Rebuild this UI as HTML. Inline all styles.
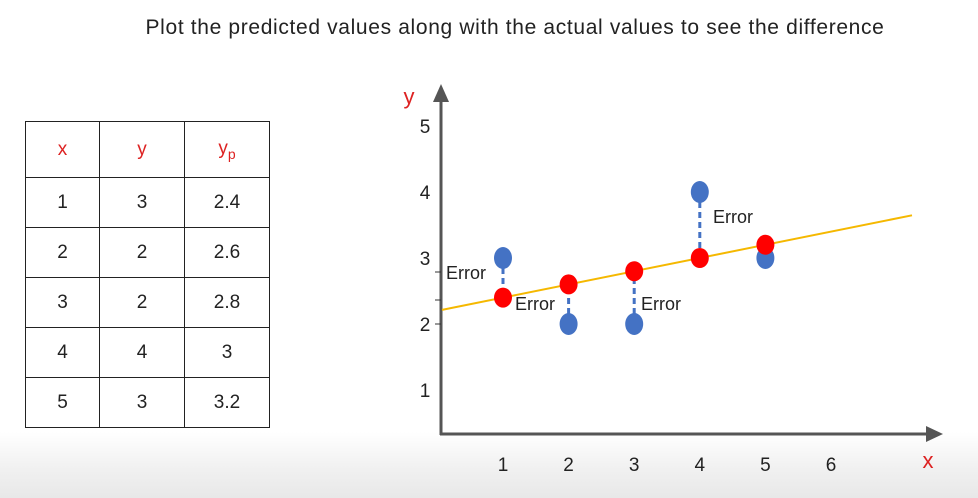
<!DOCTYPE html>
<html><head><meta charset="utf-8"><style>
body{margin:0;width:978px;height:498px;overflow:hidden;background:linear-gradient(#fff 0,#fff 432px,#f0f0f0 470px,#e8e8e8 498px);font-family:"Liberation Sans",sans-serif;position:relative}
#title{position:absolute;left:0;width:1030px;top:16px;text-align:center;font-size:21px;color:#222;letter-spacing:0.65px;white-space:nowrap}
table{position:absolute;left:25px;top:121px;border-collapse:collapse}
td{border:1.5px solid #222;text-align:center;font-size:19px;color:#222;padding:0}
td.h{color:#d22;height:55px}
td.r{height:49px}
</style></head><body>
<div id="title">Plot the predicted values along with the actual values to see the difference</div>
<table>
<tr><td class="h" style="width:73px">x</td><td class="h" style="width:84px">y</td><td class="h" style="width:84px">y<sub style="font-size:14px">p</sub></td></tr>
<tr><td class="r">1</td><td>3</td><td>2.4</td></tr>
<tr><td class="r">2</td><td>2</td><td>2.6</td></tr>
<tr><td class="r">3</td><td>2</td><td>2.8</td></tr>
<tr><td class="r">4</td><td>4</td><td>3</td></tr>
<tr><td class="r">5</td><td>3</td><td>3.2</td></tr>
</table>
<svg id="chart" width="978" height="498" style="position:absolute;left:0;top:0"></svg>
<script>
const xs=[1,2,3,4,5];
const actual=[3,2,2,4,3];
const predicted=[2.4,2.6,2.8,3,3.2];
const xTicks=[1,2,3,4,5,6];
const yTicks=[1,2,3,4,5];
const intercept=2.2, slope=0.2;
const errorLabels=["Error","Error","Error","Error",""];
const sx=v=>503+(v-1)*65.6;
const sy=v=>324-(v-2)*66;
const svg=document.getElementById('chart');
const NS='http://www.w3.org/2000/svg';
function mk(t,a,name){const e=document.createElementNS(NS,t);for(const k in a)e.setAttribute(k,a[k]);svg.appendChild(e);


return e;}
mk('line',{x1:441,y1:435,x2:441,y2:100,stroke:'#555','stroke-width':3},'y-axis');
mk('polygon',{points:'433,102 449,102 441,84',fill:'#555'},'y-axis-arrow');
mk('line',{x1:440,y1:434,x2:928,y2:434,stroke:'#555','stroke-width':3},'x-axis');
mk('polygon',{points:'926,426 926,442 943,434',fill:'#555'},'x-axis-arrow');
mk('line',{x1:435,y1:sy(2),x2:441,y2:sy(2),stroke:'#333','stroke-width':1},'y-tick');
mk('line',{x1:435,y1:272,x2:441,y2:272,stroke:'#333','stroke-width':1},'y-tick');
mk('line',{x1:435,y1:300,x2:441,y2:300,stroke:'#333','stroke-width':1},'y-tick');
xTicks.forEach(v=>{const t=mk('text',{x:sx(v),y:471,'text-anchor':'middle','font-size':19,fill:'#222'},'x-tick-label');t.textContent=v;});
yTicks.forEach(v=>{const t=mk('text',{x:425,y:sy(v)+7,'text-anchor':'middle','font-size':19,fill:'#222'},'y-tick-label');t.textContent=v;});
let t=mk('text',{x:409,y:104,'text-anchor':'middle','font-size':22,fill:'#d22'},'y-axis-title');t.textContent='y';
t=mk('text',{x:928,y:468,'text-anchor':'middle','font-size':22,fill:'#d22'},'x-axis-title');t.textContent='x';
const x0=(442-503)/65.6+1,x1=(912-503)/65.6+1;
mk('line',{x1:sx(x0),y1:sy(intercept+slope*x0),x2:sx(x1),y2:sy(intercept+slope*x1),stroke:'#F5B800','stroke-width':2},'regression-line');
xs.forEach((x,i)=>{mk('line',{x1:sx(x),y1:sy(actual[i]),x2:sx(x),y2:sy(predicted[i]),stroke:'#4472C4','stroke-width':3,'stroke-dasharray':'6,4'},'error-line');});
xs.forEach((x,i)=>{mk('ellipse',{cx:sx(x),cy:sy(actual[i]),rx:9,ry:11,fill:'#4472C4'},'actual-point');});
xs.forEach((x,i)=>{mk('ellipse',{cx:sx(x),cy:sy(predicted[i]),rx:9,ry:10,fill:'#FF0000'},'predicted-point');});
const lp=[[446,279],[515,310],[641,310],[713,223]];
errorLabels.forEach((l,i)=>{if(!l)return;const e=mk('text',{x:lp[i][0],y:lp[i][1],'font-size':18,fill:'#222'},'error-label');e.textContent=l;});
</script>
</body></html>
